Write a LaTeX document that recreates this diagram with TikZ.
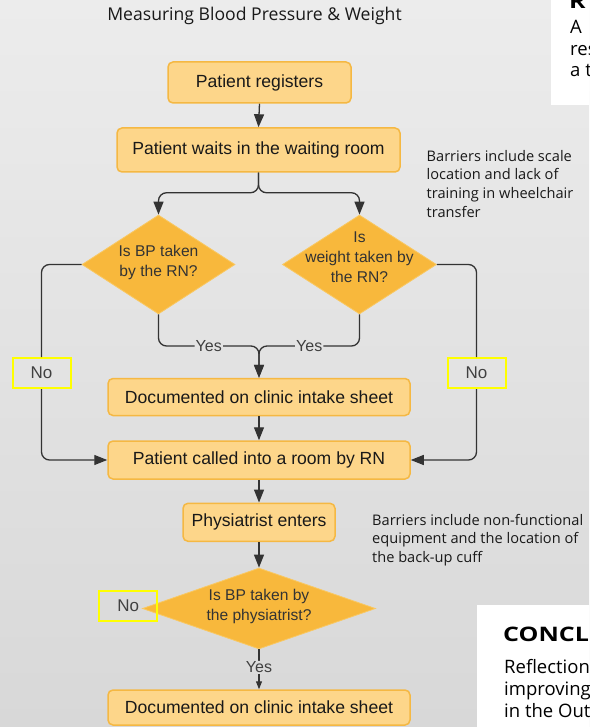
\documentclass[tikz,border=0pt]{standalone}
\usepackage{fontspec}
\setmainfont{Liberation Sans}
\newfontfamily\notefont{Open Sans}
\usetikzlibrary{arrows.meta,shapes.geometric,calc}
\definecolor{bgtop}{HTML}{ECECEC}
\definecolor{bgbot}{HTML}{D8D8D8}
\definecolor{bgmid}{HTML}{E3E3E3}
\definecolor{bglow}{HTML}{DBDBDB}
\definecolor{boxfill}{HTML}{FDD68A}
\definecolor{boxline}{HTML}{F5B843}
\definecolor{diafill}{HTML}{F8B83C}
\definecolor{dialine}{HTML}{F9C862}
\definecolor{linec}{HTML}{333333}
\definecolor{noyellow}{HTML}{FFFF00}
\begin{document}
\begin{tikzpicture}[x=1pt,y=-1pt,
  stepbox/.style={draw=boxline, fill=boxfill, line width=1.5pt, rounded corners=5pt, inner sep=0pt, font=\fontsize{17.6}{21}\selectfont, text=black!90},
  dia/.style={diamond, draw=dialine, fill=diafill, line width=0.8pt, inner sep=0pt},
  diatext/.style={align=center, font=\fontsize{15.6}{20}\selectfont, text=black!80, inner sep=0pt},
  conn/.style={draw=linec, line width=1.3pt, rounded corners=8pt},
  arr/.style={conn, -{Triangle[width=10pt,length=13pt]}},
  smallarr/.style={conn, -{Triangle[width=6pt,length=8pt]}},
  nobox/.style={draw=noyellow, line width=2pt, minimum width=58pt, minimum height=30pt, inner sep=0pt, font=\fontsize{17}{20}\selectfont, text=black!75},
  yeslab/.style={font=\fontsize{16}{19}\selectfont, text=black!75, inner sep=1pt},
  note/.style={align=left, anchor=north west, font=\notefont\fontsize{14.6}{18.6}\selectfont, inner sep=0pt, text=black!90},
  sidetext/.style={anchor=base west, inner sep=0pt, font=\notefont\fontsize{18.5}{22}\selectfont, text=black},
  sidehead/.style={anchor=base west, inner sep=0pt, font=\notefont\bfseries\fontsize{20}{24}\selectfont, text=black}
]
\clip (0,0) rectangle (589,727);
\shade[top color=bgtop,bottom color=bgbot] (0,0) rectangle (589,727);

% white side panels
\fill[white] (551,-5) rectangle (600,105);
\fill[white] (477,605) rectangle (600,740);
\node[sidehead] (rhead) at (569,9) {\scalebox{1.25}[1]{R}};
\node[sidetext] (ra) at (570,34) {A};
\node[sidetext] (rb) at (570,55.5) {res};
\node[sidetext] (rc) at (570,77) {a t};
\node[sidehead] (chead) at (503,641.5) {\scalebox{1.25}[1]{CONCL}};
\node[sidetext] (ca) at (504,673.5) {Reflection};
\node[sidetext] (cb) at (504,695.5) {improving};
\node[sidetext] (cc) at (504,717.5) {in the Out};

% title
\node[font=\notefont\fontsize{17.6}{21}\selectfont, text=black!90] (title) at (254.5,16) {Measuring Blood Pressure \& Weight};

% boxes
\node[stepbox, minimum width=183pt, minimum height=41pt] (reg) at (259.5,82.5) {Patient registers};
\node[stepbox, minimum width=283pt, minimum height=44pt] (wait) at (258.5,150) {Patient waits in the waiting room};
\node[stepbox, minimum width=302pt, minimum height=37pt] (doc1) at (259,397) {Documented on clinic intake sheet};
\node[stepbox, minimum width=302pt, minimum height=38pt] (call) at (259,460) {Patient called into a room by RN};
\node[stepbox, minimum width=152pt, minimum height=38pt] (phys) at (259,522.3) {Physiatrist enters};
\node[stepbox, minimum width=302pt, minimum height=35pt] (doc2) at (259,707.5) {Documented on clinic intake sheet};

% diamonds
\node[dia, minimum width=153pt, minimum height=99pt] (d1) at (158.5,264.5) {};
\node[diatext] (d1t) at (158.5,262.5) {Is BP taken\\by the RN?};
\node[dia, minimum width=154pt, minimum height=99pt] (d2) at (359.5,264.5) {};
\node[diatext] (d2t) at (359.5,257.3) {Is\\weight taken by\\the RN?};
\node[dia, minimum width=233pt, minimum height=81pt] (d3) at (259,608.5) {};
\node[diatext] (d3t) at (259,606.3) {Is BP taken by\\the physiatrist?};

% notes
\node[note] (note1) at (426.5,150) {Barriers include scale\\location and lack of\\training in wheelchair\\transfer};
\node[note] (note2) at (372,514) {Barriers include non-functional\\equipment and the location of\\the back-up cuff};

% No labels
\node[nobox, fill=bgmid] (no1) at (41.5,373) {No};
\node[nobox, fill=bgmid] (no2) at (476.5,373) {No};

% connectors
\draw[arr] (reg.south) -- (wait.north);
\draw[arr] (wait.south) -- ++(0,20) -| (d1.north);
\draw[arr] (wait.south) -- ++(0,20) -| (d2.north);
\coordinate (merge) at (259,346);
\draw[arr] (d1.south) |- node[yeslab, fill=bgmid, pos=0.75] (y1) {Yes} (merge) -- (doc1.north);
\draw[arr] (d2.south) |- node[yeslab, fill=bgmid, pos=0.75] (y2) {Yes} (merge) -- (doc1.north);
\draw[conn] (d1.west) -| (no1);
\draw[arr] (no1) |- (call.west);
\draw[conn] (d2.east) -| (no2);
\draw[arr] (no2) |- (call.east);
\draw[arr] (doc1.south) -- (call.north);
\draw[arr] (call.south) -- (phys.north);
\draw[arr] (phys.south) -- (d3.north);
\draw[smallarr] (d3.south) -- node[yeslab, fill=bglow, pos=0.45] (y3) {Yes} (doc2.north);

\node[nobox] (no3) at (128.3,605.5) {No};
\end{tikzpicture}
\end{document}
